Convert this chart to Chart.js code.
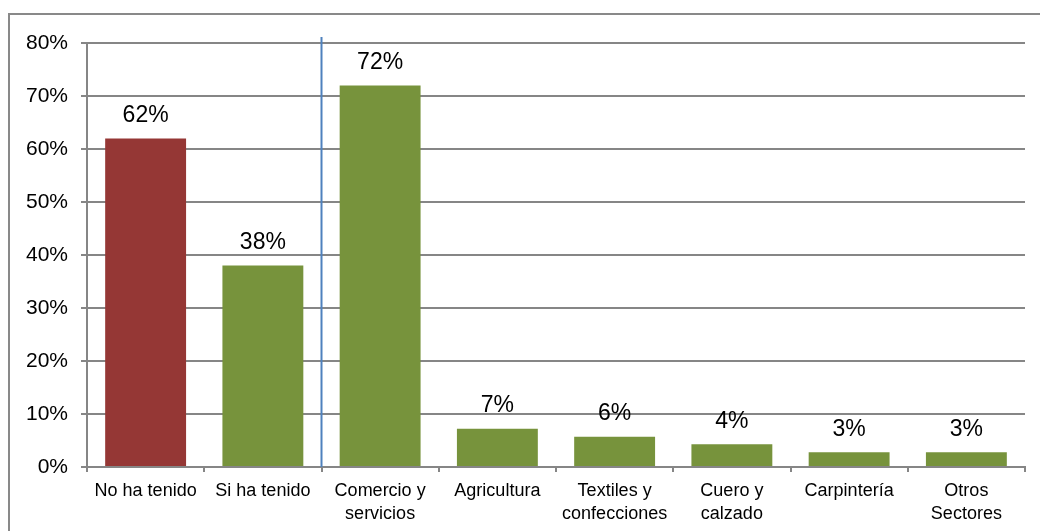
<!DOCTYPE html>
<html>
<head>
<meta charset="utf-8">
<script src="https://cdn.jsdelivr.net/npm/chart.js@4/dist/chart.umd.min.js"></script>
<style>
  body { margin: 0; background: #fff; }
  #wrap { width: 1040px; height: 531px; position: relative; }
</style>
</head>
<body>
<div id="wrap"><canvas id="myChart"></canvas></div>
<script>
const categories = [
    "No ha tenido", "Si ha tenido", ["Comercio y", "servicios"], "Agricultura",
    ["Textiles y", "confecciones"], ["Cuero y", "calzado"], "Carpintería", ["Otros", "Sectores"]
];
const values = [62, 38, 72, 7.2, 5.7, 4.3, 2.8, 2.8];
const valueLabels = ["62%", "38%", "72%", "7%", "6%", "4%", "3%", "3%"];
const barColors = ["#953735", "#77933C", "#77933C", "#77933C", "#77933C", "#77933C", "#77933C", "#77933C"];
const yTicks = [0, 10, 20, 30, 40, 50, 60, 70, 80];

Chart.defaults.font.family = "'Liberation Sans', Arial, sans-serif";
Chart.defaults.color = "#000";

// outer frame, separator line and value labels
const extras = {
    id: "extras",
    beforeDraw: (chart) => {
        const ctx = chart.ctx;
        ctx.save();
        ctx.strokeStyle = "#898989";
        ctx.lineWidth = 2;
        ctx.strokeRect(9, 14, 1100, 600);
        ctx.restore();
    },
    afterDatasetsDraw: (chart) => {
        const ctx = chart.ctx;
        const x = chart.scales.x;
        const area = chart.chartArea;
        const sepX = (x.getPixelForValue(1) + x.getPixelForValue(2)) / 2;
        ctx.save();
        ctx.strokeStyle = "#4F81BD";
        ctx.lineWidth = 2;
        ctx.beginPath();
        ctx.moveTo(sepX, area.top - 6);
        ctx.lineTo(sepX, area.bottom);
        ctx.stroke();

        ctx.fillStyle = "#000";
        ctx.font = "23px 'Liberation Sans', Arial, sans-serif";
        ctx.textAlign = "center";
        ctx.textBaseline = "middle";
        chart.getDatasetMeta(0).data.forEach((bar, i) => {
            ctx.fillText(valueLabels[i], bar.x, bar.y - 23);
        });
        ctx.restore();
    }
};

new Chart(document.getElementById("myChart"), {
    type: "bar",
    data: {
        labels: categories,
        datasets: [{
            data: values,
            backgroundColor: barColors,
            categoryPercentage: 1,
            barPercentage: 0.69
        }]
    },
    options: {
        responsive: true,
        maintainAspectRatio: false,
        animation: false,
        layout: { padding: { top: 43, right: 15, left: 0, bottom: 0 } },
        plugins: { legend: { display: false }, tooltip: { enabled: false } },
        scales: {
            x: {
                afterFit: (s) => { s.height = 64; },
                grid: { offset: true, drawOnChartArea: false, tickLength: 5, color: "#868686", lineWidth: 2 },
                border: { color: "#868686", width: 2 },
                ticks: { font: { size: 18, lineHeight: 1.25 }, padding: 8, maxRotation: 0, autoSkip: false }
            },
            y: {
                min: 0,
                max: 80,
                afterFit: (s) => { s.width = 87; },
                afterBuildTicks: (s) => { s.ticks = yTicks.map(v => ({ value: v })); },
                grid: { color: "#868686", lineWidth: 2, tickLength: 6 },
                border: { color: "#868686", width: 2 },
                ticks: { font: { size: 21 }, padding: 13, callback: (v) => v + "%" }
            }
        }
    },
    plugins: [extras]
});
</script>
</body>
</html>
